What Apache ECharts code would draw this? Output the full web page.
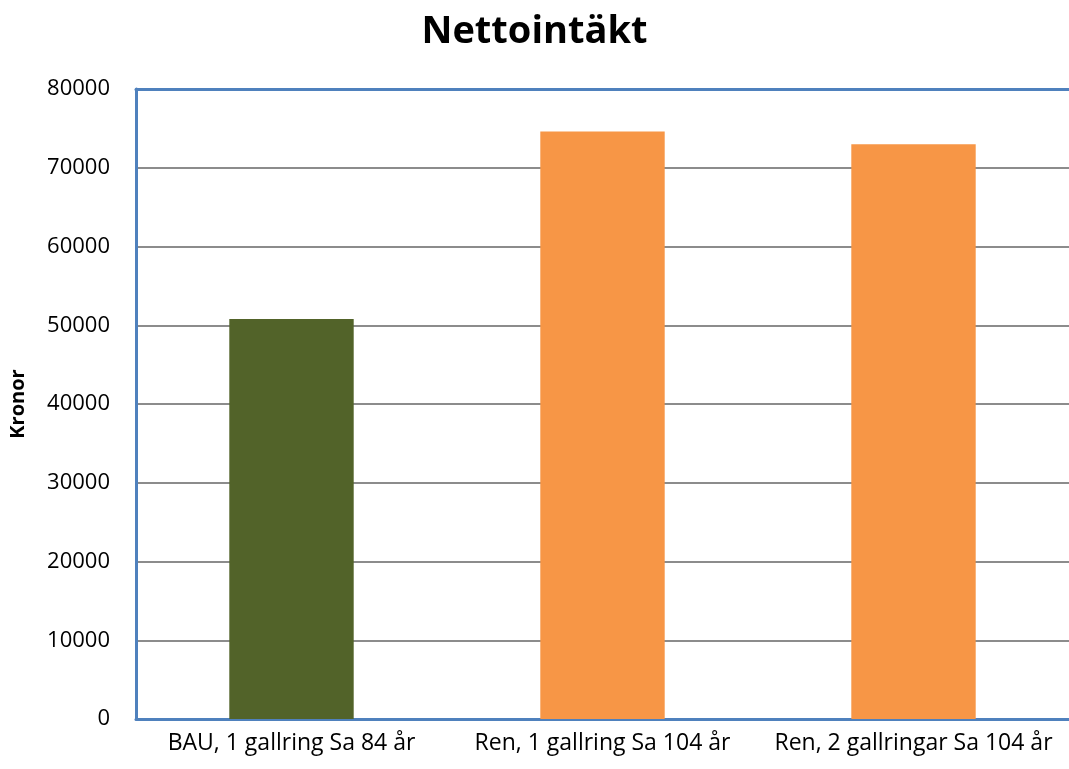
<!DOCTYPE html>
<html>
<head>
<meta charset="utf-8">
<script src="https://cdn.jsdelivr.net/npm/echarts@6/dist/echarts.min.js"></script>
<style>
html, body { margin: 0; padding: 0; background: #fff; }
#chart { width: 1069px; height: 769px; }
</style>
</head>
<body>
<div id="chart"></div>
<script>
// Net income per management alternative (kronor)
const categories = ['BAU, 1 gallring Sa 84 år', 'Ren, 1 gallring Sa 104 år', 'Ren, 2 gallringar Sa 104 år'];
const netIncome = [50800, 74600, 73000];
const barColors = ['#526329', '#F79646', '#F79646'];
const yTicks = { min: 0, max: 80000, interval: 10000 };

const FONT = '"Open Sans", "Liberation Sans", sans-serif';
const AXIS_BLUE = '#4F81BD';

const chart = echarts.init(document.getElementById('chart'), null, { renderer: 'canvas' });

chart.setOption({
  animation: false,
  backgroundColor: '#ffffff',
  title: {
    text: 'Nettointäkt',
    left: 'center',
    top: 8,
    textStyle: { fontFamily: FONT, fontSize: 38, fontWeight: 'bold', color: '#000' }
  },
  grid: { left: 135, top: 89, bottom: 50, width: 936, containLabel: false },
  xAxis: [
    {
      type: 'category',
      data: categories,
      position: 'bottom',
      axisLine: { show: true, lineStyle: { color: AXIS_BLUE, width: 3 } },
      axisTick: { show: false },
      axisLabel: { fontFamily: FONT, fontSize: 23, color: '#000', margin: 13, interval: 0 }
    },
    {
      type: 'category',
      data: categories,
      position: 'top',
      axisLine: { show: true, lineStyle: { color: AXIS_BLUE, width: 3 } },
      axisTick: { show: false },
      axisLabel: { show: false }
    }
  ],
  yAxis: {
    type: 'value',
    min: yTicks.min,
    max: yTicks.max,
    interval: yTicks.interval,
    name: 'Kronor',
    nameLocation: 'middle',
    nameGap: 108,
    nameRotate: 90,
    nameTextStyle: { fontFamily: FONT, fontSize: 20, fontWeight: 'bold', color: '#000' },
    axisLine: { show: true, lineStyle: { color: AXIS_BLUE, width: 3 } },
    axisTick: { show: false },
    axisLabel: { fontFamily: FONT, fontSize: 22, color: '#000', margin: 26, formatter: v => String(v) },
    splitLine: { show: true, showMinLine: false, showMaxLine: false, lineStyle: { color: '#8c8c8c', width: 2 } }
  },
  series: [{
    type: 'bar',
    xAxisIndex: 0,
    data: netIncome.map((v, i) => ({ value: v, itemStyle: { color: barColors[i] } })),
    barWidth: '40%'
  }]
});
</script>
</body>
</html>
